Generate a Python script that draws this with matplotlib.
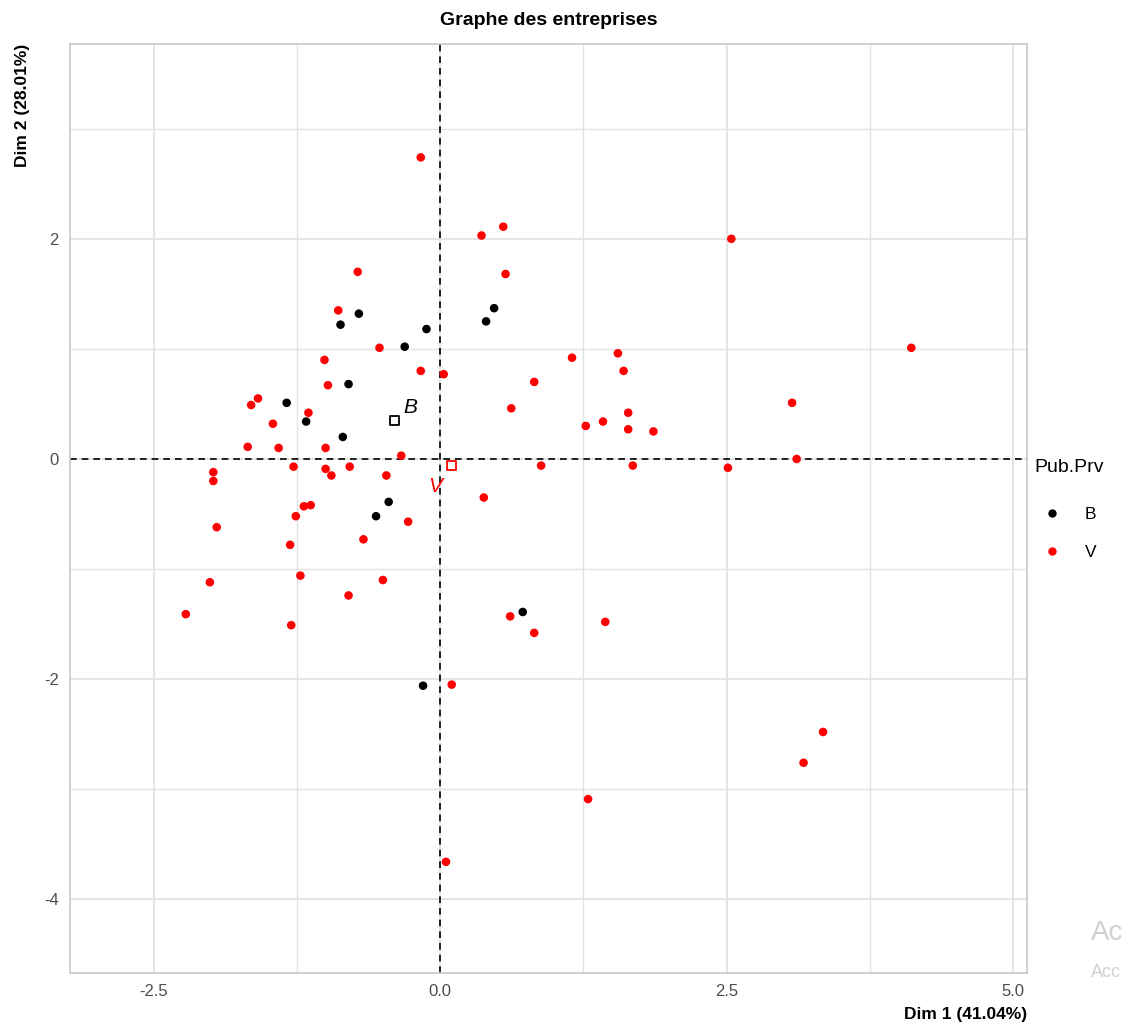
import matplotlib
matplotlib.use("Agg")
import matplotlib.pyplot as plt
from matplotlib.lines import Line2D
from matplotlib.ticker import MultipleLocator

plt.rcParams["font.family"] = ["Liberation Sans", "DejaVu Sans"]
plt.rcParams["axes.unicode_minus"] = False

# individus, groupe B (public)
b_x = [-0.87, -0.71, -0.12, -0.31, 0.40, 0.47, -0.80, -1.34, -1.17, -0.85,
       -0.45, -0.56, 0.72, -0.15]
b_y = [1.22, 1.32, 1.18, 1.02, 1.25, 1.37, 0.68, 0.51, 0.34, 0.20,
       -0.39, -0.52, -1.39, -2.06]

# individus, groupe V (privé)
v_x = [-0.17, 0.36, 0.55, 0.57, -0.72, -0.89, -0.53, -1.01, 1.15, -0.17,
       0.03, -0.98, -1.59, -1.65, -1.15, -1.46, -1.68, -1.41, -1.00, -0.34,
       -1.28, -1.98, -1.98, -1.00, -0.95, -0.79, -0.47, -1.19, -1.13, -1.26,
       -1.95, -1.31, -0.67, -0.28, -2.01, -1.22, -0.80, -0.50, -2.22, -1.30,
       1.55, 1.60, 0.82, 0.62, 1.27, 1.42, 1.64, 1.64, 1.86, 0.88,
       1.68, 0.38, 3.07, 3.11, 2.51, 2.54, 4.11, 3.34, 3.17, 1.29,
       0.05, 0.61, 0.82, 1.44, 0.10]
v_y = [2.74, 2.03, 2.11, 1.68, 1.70, 1.35, 1.01, 0.90, 0.92, 0.80,
       0.77, 0.67, 0.55, 0.49, 0.42, 0.32, 0.11, 0.10, 0.10, 0.03,
       -0.07, -0.12, -0.20, -0.09, -0.15, -0.07, -0.15, -0.43, -0.42, -0.52,
       -0.62, -0.78, -0.73, -0.57, -1.12, -1.06, -1.24, -1.10, -1.41, -1.51,
       0.96, 0.80, 0.70, 0.46, 0.30, 0.34, 0.42, 0.27, 0.25, -0.06,
       -0.06, -0.35, 0.51, 0.00, -0.08, 2.00, 1.01, -2.48, -2.76, -3.09,
       -3.66, -1.43, -1.58, -1.48, -2.05]

# barycentres des modalités
mod_names = ["B", "V"]
mod_x = [-0.40, 0.10]
mod_y = [0.35, -0.06]
mod_cols = ["black", "#ff0000"]

RED = "#ff0000"
GRID = "#e3e3e3"

fig = plt.figure(figsize=(11.39, 10.35), dpi=100)
ax = fig.add_axes([0.0615, 0.0599, 0.8402, 0.8976])

ax.set_xlim(-3.23, 5.12)
ax.set_ylim(-4.67, 3.77)

ax.xaxis.set_major_locator(MultipleLocator(2.5))
ax.xaxis.set_minor_locator(MultipleLocator(1.25))
ax.yaxis.set_major_locator(MultipleLocator(2))
ax.yaxis.set_minor_locator(MultipleLocator(1))
ax.grid(which="major", color=GRID, lw=1.3, zorder=0)
ax.grid(which="minor", color=GRID, lw=1.0, zorder=0)
ax.set_axisbelow(True)
ax.tick_params(which="both", length=0, labelsize=12, labelcolor="#4d4d4d", pad=8)
ax.set_xticks([-2.5, 0, 2.5, 5])
ax.set_xticklabels(["-2.5", "0.0", "2.5", "5.0"])
for s in ax.spines.values():
    s.set_color("#c8c8c8")
    s.set_linewidth(1.2)

ax.axhline(0, color="black", ls=(0, (4, 3)), lw=1.2, zorder=1)
ax.axvline(0, color="black", ls=(0, (4, 3)), lw=1.2, zorder=1)

ax.scatter(v_x, v_y, s=38, c=RED, edgecolors="none", zorder=3)
ax.scatter(b_x, b_y, s=38, c="black", edgecolors="none", zorder=3)

ax.scatter(mod_x, mod_y, s=45, marker="s", facecolors="white",
           edgecolors=mod_cols, linewidths=1.3, zorder=4)
ax.text(mod_x[0] + 0.08, mod_y[0] + 0.03, mod_names[0], color=mod_cols[0],
        fontsize=15, style="italic", ha="left", va="bottom")
ax.text(mod_x[1] - 0.08, mod_y[1] - 0.1, mod_names[1], color=mod_cols[1],
        fontsize=15, style="italic", ha="right", va="top")

ax.set_title("Graphe des entreprises", fontsize=14, fontweight="bold", pad=14)
ax.set_xlabel("Dim 1 (41.04%)", fontsize=12.5, fontweight="bold", loc="right", labelpad=6)
ax.set_ylabel("Dim 2 (28.01%)", fontsize=12.5, fontweight="bold", loc="top", labelpad=10)

handles = [Line2D([], [], marker="o", ls="", color="black", markersize=5),
           Line2D([], [], marker="o", ls="", color=RED, markersize=5)]
leg = fig.legend(handles, mod_names, title="Pub.Prv", loc="upper left",
                 bbox_to_anchor=(0.902, 0.563), frameon=False, fontsize=12.5,
                 title_fontsize=14, handletextpad=0.9, labelspacing=1.3,
                 borderaxespad=0)
leg._legend_box.align = "left"
leg._legend_box.sep = 22

# filigrane de la capture
fig.text(0.958, 0.092, "Ac", fontsize=20, color="#d0d0d0")
fig.text(0.958, 0.056, "Acc", fontsize=13, color="#d0d0d0")

fig.savefig("out.png", dpi=100)
